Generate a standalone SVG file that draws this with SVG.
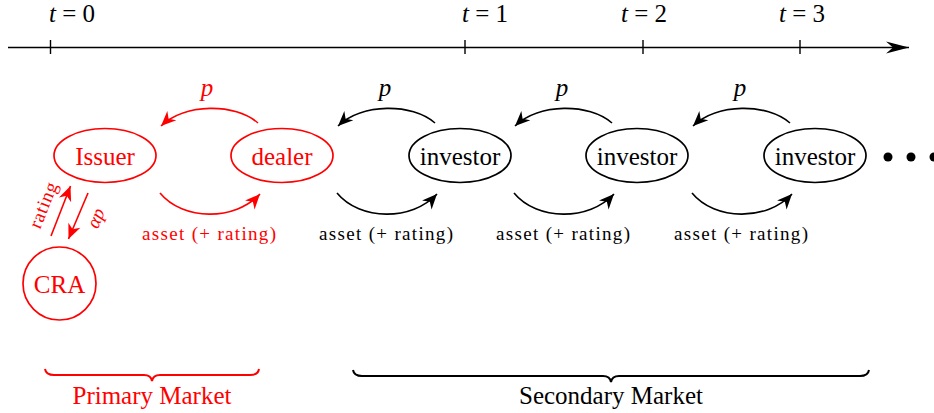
<svg xmlns="http://www.w3.org/2000/svg" width="934" height="413" viewBox="0 0 934 413">
<defs>
<marker id="ar" viewBox="-16 -8 17 16" markerWidth="17" markerHeight="16" refX="0" refY="0" orient="auto" markerUnits="userSpaceOnUse">
<path d="M0,0 L-15,-6.5 L-10.5,0 L-15,6.5 z" fill="#ff0000"/>
</marker>
<marker id="ab" viewBox="-16 -8 17 16" markerWidth="17" markerHeight="16" refX="0" refY="0" orient="auto" markerUnits="userSpaceOnUse">
<path d="M0,0 L-15,-6.5 L-10.5,0 L-15,6.5 z" fill="#000"/>
</marker>
<marker id="at" viewBox="-24 -7 25 14" markerWidth="25" markerHeight="14" refX="0" refY="0" orient="auto" markerUnits="userSpaceOnUse">
<path d="M0,0 L-23,-6 L-16,0 L-23,6 z" fill="#000"/>
</marker>
</defs>

<g id="timeline" stroke="#000" stroke-width="1.4">
<line x1="8" y1="47.5" x2="909" y2="47.5" marker-end="url(#at)"/>
<line x1="50.5" y1="40" x2="50.5" y2="54"/>
<line x1="465" y1="40" x2="465" y2="54"/>
<line x1="643" y1="40" x2="643" y2="54"/>
<line x1="800" y1="40" x2="800" y2="54"/>
</g>
<g id="time-labels" font-family="Liberation Serif" font-size="25" text-anchor="middle" fill="#000">
<text x="72" y="22"><tspan font-style="italic">t</tspan> = 0</text>
<text x="485" y="22"><tspan font-style="italic">t</tspan> = 1</text>
<text x="644" y="22"><tspan font-style="italic">t</tspan> = 2</text>
<text x="802" y="22"><tspan font-style="italic">t</tspan> = 3</text>
</g>

<g id="issuer">
<ellipse cx="105" cy="155.5" rx="51" ry="27" fill="none" stroke="#ff0000" stroke-width="1.7"/>
<text font-family="Liberation Serif" font-size="25" text-anchor="middle" fill="#ff0000" x="105" y="165">Issuer</text>
</g>
<g id="dealer">
<ellipse cx="282" cy="155.5" rx="51" ry="27" fill="none" stroke="#ff0000" stroke-width="1.7"/>
<text font-family="Liberation Serif" font-size="25" text-anchor="middle" fill="#ff0000" x="282" y="165">dealer</text>
</g>
<g id="investor1">
<ellipse cx="460" cy="155.5" rx="51" ry="27" fill="none" stroke="#000" stroke-width="1.7"/>
<text font-family="Liberation Serif" font-size="25" text-anchor="middle" fill="#000" x="460" y="165">investor</text>
</g>
<g id="investor2">
<ellipse cx="637" cy="155.5" rx="51" ry="27" fill="none" stroke="#000" stroke-width="1.7"/>
<text font-family="Liberation Serif" font-size="25" text-anchor="middle" fill="#000" x="637" y="165">investor</text>
</g>
<g id="investor3">
<ellipse cx="815" cy="155.5" rx="51" ry="27" fill="none" stroke="#000" stroke-width="1.7"/>
<text font-family="Liberation Serif" font-size="25" text-anchor="middle" fill="#000" x="815" y="165">investor</text>
</g>
<g id="cra">
<circle cx="59.5" cy="283.5" r="36.5" fill="none" stroke="#ff0000" stroke-width="1.7"/>
<text font-family="Liberation Serif" font-size="25" text-anchor="middle" fill="#ff0000" x="59.5" y="293">CRA</text>
</g>
<g id="dots" fill="#000">
<circle cx="888" cy="157" r="4.5"/>
<circle cx="911" cy="157" r="4.5"/>
<circle cx="934" cy="157" r="4.5"/>
</g>

<g id="connectors" fill="none" stroke-width="1.6">
<path stroke="#ff0000" d="M258,123 C235,103 185,103 161,126" marker-end="url(#ar)"/>
<path stroke="#ff0000" d="M160,193 C183,221 235,221 260,194" marker-end="url(#ar)"/>
<path stroke="#000" d="M435,123 C412,103 362,103 338,126" marker-end="url(#ab)"/>
<path stroke="#000" d="M337,193 C360,221 412,221 437,194" marker-end="url(#ab)"/>
<path stroke="#000" d="M612,123 C589,103 539,103 515,126" marker-end="url(#ab)"/>
<path stroke="#000" d="M514,193 C537,221 589,221 614,194" marker-end="url(#ab)"/>
<path stroke="#000" d="M790,123 C767,103 717,103 693,126" marker-end="url(#ab)"/>
<path stroke="#000" d="M692,193 C715,221 767,221 792,194" marker-end="url(#ab)"/>
<line stroke="#ff0000" x1="51" y1="236" x2="70.5" y2="186" marker-end="url(#ar)"/>
<line stroke="#ff0000" x1="88" y1="193" x2="68.5" y2="239" marker-end="url(#ar)"/>
</g>
<g id="connector-labels" font-family="Liberation Serif" text-anchor="middle">
<text font-size="25" font-style="italic" fill="#ff0000" x="207" y="96">p</text>
<text font-size="25" font-style="italic" fill="#000" x="385" y="96">p</text>
<text font-size="25" font-style="italic" fill="#000" x="562" y="96">p</text>
<text font-size="25" font-style="italic" fill="#000" x="740" y="96">p</text>
<text font-size="19" fill="#ff0000" x="209" y="240" textLength="134">asset (+ rating)</text>
<text font-size="19" fill="#000" x="386" y="240" textLength="134">asset (+ rating)</text>
<text font-size="19" fill="#000" x="563" y="240" textLength="134">asset (+ rating)</text>
<text font-size="19" fill="#000" x="741" y="240" textLength="134">asset (+ rating)</text>
<text font-size="19" fill="#ff0000" transform="translate(49,207.5) rotate(-68)" x="0" y="0" textLength="48">rating</text>
<text font-size="19" font-style="italic" fill="#ff0000" transform="translate(101.5,220.5) rotate(-67)" x="0" y="0">αp</text>
</g>

<g id="primary-market">
<path d="M45,369 Q46,375 54,375 L144,375 Q151,375 152,381 Q153,375 160,375 L250,375 Q258,375 259,369" fill="none" stroke="#ff0000" stroke-width="2"/>
<text font-family="Liberation Serif" font-size="25" text-anchor="middle" fill="#ff0000" x="152" y="404">Primary Market</text>
</g>
<g id="secondary-market">
<path d="M353,370 Q354,376 362,376 L603,376 Q610,376 611,382 Q612,376 619,376 L860,376 Q868,376 869,370" fill="none" stroke="#000" stroke-width="2"/>
<text font-family="Liberation Serif" font-size="25" text-anchor="middle" fill="#000" x="611" y="404">Secondary Market</text>
</g>
</svg>
